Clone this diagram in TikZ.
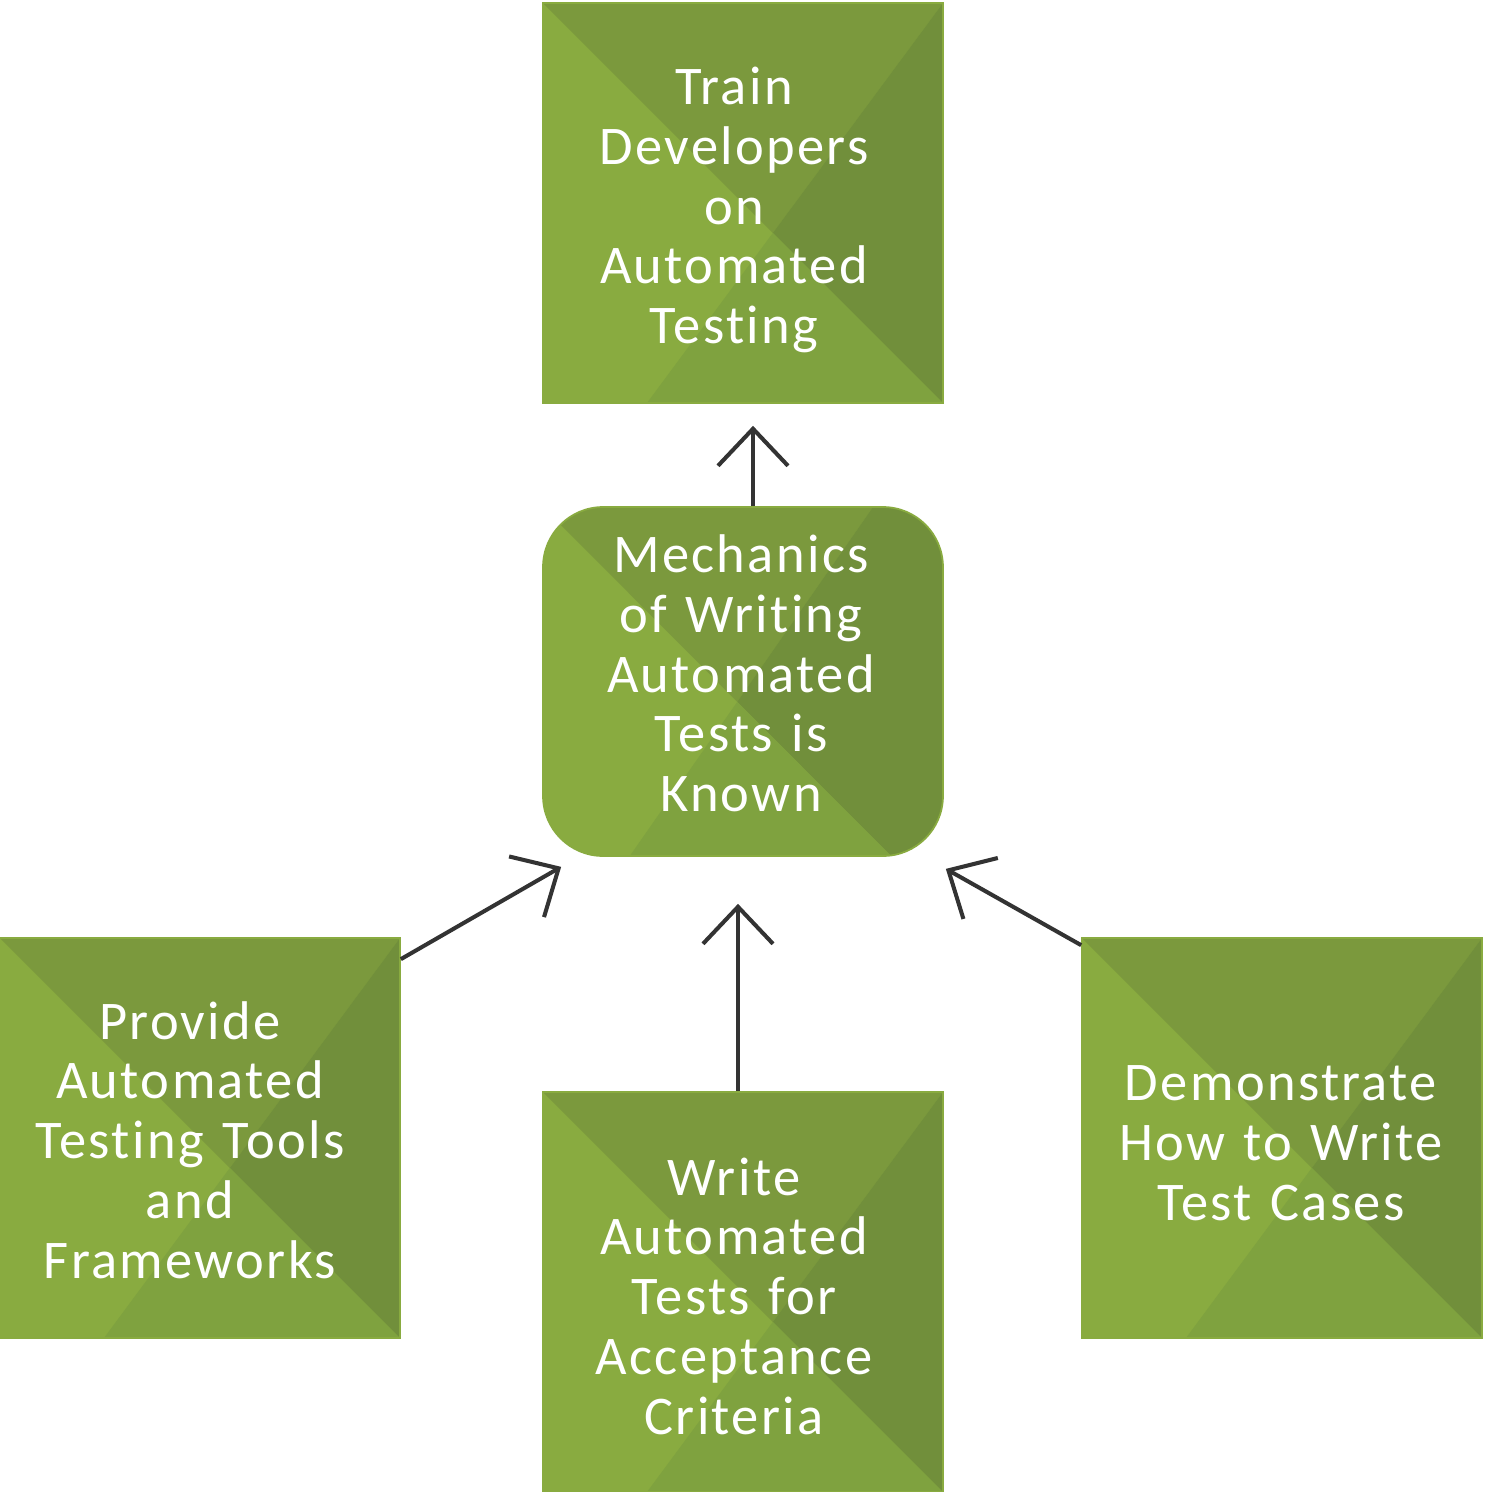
\documentclass[tikz,border=0pt]{standalone}
\usepackage{fontspec}
\setmainfont{Carlito}[Ligatures={NoCommon,NoContextual}, LetterSpace=4.3]
\usetikzlibrary{arrows.meta, calc}

\definecolor{tileA}{HTML}{89AB40}
\definecolor{tileB}{HTML}{7B993D}
\definecolor{tileC}{HTML}{718F3B}
\definecolor{tileD}{HTML}{7FA23F}
\definecolor{arrowgray}{HTML}{333333}

\begin{document}
\begin{tikzpicture}[x=0.02cm, y=-0.02cm]

% #1 diagonal end on bottom edge, #2 top point, #3 bottom point of the second cut
\tikzset{facets/.style n args = {3}{path picture={
    \coordinate (tl) at (path picture bounding box.north west);
    \coordinate (tr) at (path picture bounding box.north east);
    \coordinate (bl) at (path picture bounding box.south west);
    \coordinate (br) at (path picture bounding box.south east);
    \coordinate (d2) at ($(bl)!#1!(br)$);
    \coordinate (s1) at ($(tl)!#2!(tr)$);
    \coordinate (s2) at ($(bl)!#3!(br)$);
    \coordinate (cx) at (intersection of tl--d2 and s1--s2);
    \fill[tileB, sharp corners] (tl) -- (s1) -- (cx) -- cycle;
    \fill[tileC, sharp corners] (s1) -- (tr) -- (br) -- (d2) -- (cx) -- cycle;
    \fill[tileD, sharp corners] (cx) -- (d2) -- (s2) -- cycle;
  }}}
\tikzset{tile/.style = {shape=rectangle, fill=tileA, draw=tileA, line width=1pt,
  minimum width=8cm, minimum height=8cm, inner sep=0pt, facets={1}{1}{0.26}}}
\tikzset{goal/.style = {tile, rounded corners=1.2cm, minimum height=6.98cm,
  facets={0.87}{0.825}{0.217}}}
\tikzset{caption/.style = {text width=7cm, align=center, text=white,
  font=\fontsize{31}{34}\selectfont}}
\tikzset{edge/.style = {draw=arrowgray, line width=2.3pt,
  -{Straight Barb[length=7.4mm, width=14mm]}}}

\useasboundingbox (0,0) rectangle (1486,1492);

%boxes
\node[tile, label={[caption, xshift=-0.18cm, yshift=-0.14cm]center:Train\\ Developers\\ on\\ Automated\\ Testing}] (train) at (743,203) {};
\node[goal, label={[caption, xshift=-0.04cm, yshift=0.16cm]center:Mechanics\\ of Writing\\ Automated\\ Tests is\\ Known}] (mech) at (743,681.5) {};
\node[tile, label={[caption, xshift=-0.2cm, yshift=-0.04cm]center:Provide\\ Automated\\ Testing Tools\\ and\\ Frameworks}] (prov) at (200,1138) {};
\node[tile, label={[caption, xshift=-0.18cm, yshift=-0.08cm]center:Write\\ Automated\\ Tests for\\ Acceptance\\ Criteria}] (write) at (743,1292) {};
\node[tile, label={[caption, xshift=-0.02cm, yshift=-0.1cm]center:Demonstrate\\ How to Write\\ Test Cases}] (demo) at (1282,1138) {};

%edges
\draw[edge] ($(mech.north)+(10,0)$) -- ($(train.south)+(10,22)$);
\draw[edge] ($(prov.north east)+(0,22)$) -- ($(mech.south west)+(19,10)$);
\draw[edge] ($(write.north)+(-5,0)$) -- ($(mech.south)+(-5,47)$);
\draw[edge] ($(demo.north west)+(0,8)$) -- ($(mech.south east)+(2,12)$);

\end{tikzpicture}
\end{document}
